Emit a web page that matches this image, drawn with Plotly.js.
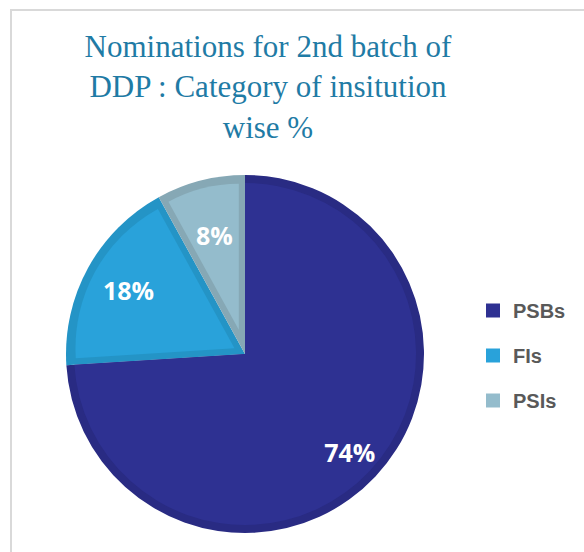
<!DOCTYPE html>
<html>
<head>
<meta charset="utf-8">
<script src="https://cdn.plot.ly/plotly-3.0.1.min.js"></script>
<style>html,body{margin:0;padding:0;background:#fff;}#chart{width:584px;height:552px;}</style>
</head>
<body>
<div id="chart"></div>
<script>
// ---- data ----
const categories = ['PSBs', 'FIs', 'PSIs'];
const shares = [74, 18, 8];            // % of nominations
const fillColors = ['#2E3192', '#29A2DA', '#94BCCC'];
const edgeColors = ['#292B83', '#2494C6', '#86A8B5'];
const titleText = 'Nominations for 2nd batch of<br>DDP : Category of insitution<br>wise %';

// ---- geometry / style config (pixels) ----
const W = 584, H = 552;
const CX = 245, CY = 354, R = 179;     // pie centre and outer radius
const BORDER = 8;                       // bevel-like edge width
const innerShift = [0, 12, 25];         // inset of light face along bisector
const labelDist = [152, 133, 123];      // label distance from centre
const TRANSPARENT = 'rgba(0,0,0,0)';

function domainFor(h) {
  return {
    x: [(CX - h) / W, (CX + h) / W],
    y: [Math.max(0, (H - CY - h) / H), Math.min(1, (H - CY + h) / H)]
  };
}

const base = {
  type: 'pie', values: shares, labels: categories, sort: false,
  direction: 'clockwise', rotation: 0, showlegend: false,
  hoverinfo: 'skip', textinfo: 'none'
};

const traces = [];
// outer (darker edge) pie
traces.push(Object.assign({}, base, {
  domain: domainFor(R),
  marker: {colors: edgeColors, line: {width: 0}}
}));
// inner light faces, one per slice
const innerH = R - BORDER;
categories.forEach((c, k) => {
  const d = innerShift[k];
  const p = d / (innerH - d);
  traces.push(Object.assign({}, base, {
    domain: domainFor(innerH),
    pull: categories.map((_, i) => i === k ? p : 0),
    marker: {colors: categories.map((_, i) => i === k ? fillColors[k] : TRANSPARENT), line: {width: 0}}
  }));
});
// percentage labels
const total = shares.reduce((a, b) => a + b, 0);
categories.forEach((c, k) => {
  const half = Math.PI * shares[k] / total;
  const s = Math.sin(half);
  const rIns = Math.min(1 / (1 + 1 / s), 0.5);
  const rC = 1 - rIns;
  const dist = labelDist[k];
  let h = dist / rC, p = 0;
  const hMax = 196;
  if (h > hMax) { h = hMax; p = (dist - h * rC) / (h - dist); }
  traces.push(Object.assign({}, base, {
    domain: domainFor(h),
    pull: categories.map((_, i) => i === k ? p : 0),
    marker: {colors: categories.map(() => TRANSPARENT), line: {width: 0}},
    textinfo: 'percent',
    textposition: categories.map((_, i) => i === k ? 'inside' : 'none'),
    insidetextorientation: 'horizontal',
    textfont: {family: 'Open Sans', size: 25, color: '#FFFFFF', weight: 'bold'}
  }));
});
// legend entries
categories.forEach((c, k) => {
  traces.push({
    type: 'scatter', x: [null], y: [null], mode: 'markers', name: c,
    legendgroup: c, showlegend: true, hoverinfo: 'skip',
    marker: {symbol: 'square', size: 14, color: fillColors[k], line: {width: 0}}
  });
});

const layout = {
  width: W, height: H,
  margin: {l: 0, r: 0, t: 0, b: 0},
  paper_bgcolor: '#FFFFFF', plot_bgcolor: '#FFFFFF',
  xaxis: {visible: false}, yaxis: {visible: false},
  showlegend: true,
  title: {
    text: titleText,
    font: {family: 'Liberation Serif', size: 31, color: '#1F7BA5'},
    x: 268 / W, xref: 'paper', xanchor: 'center',
    y: 1 - 57 / H, yref: 'container', yanchor: 'top'
  },
  legend: {
    x: 473 / W, xanchor: 'left', y: 1 - 291 / H, yanchor: 'top',
    font: {family: 'Liberation Sans', size: 20, color: '#595959', weight: 'bold'},
    tracegroupgap: 16, bgcolor: TRANSPARENT, traceorder: 'grouped'
  },
  shapes: [{
    type: 'rect', xref: 'paper', yref: 'paper', layer: 'below',
    x0: 11 / W, x1: 1.2, y0: -0.2, y1: (H - 10) / H,
    line: {color: '#D9D9D9', width: 2}, fillcolor: TRANSPARENT
  }]
};

Plotly.newPlot('chart', traces, layout, {displayModeBar: false, staticPlot: true});
</script>
</body>
</html>
